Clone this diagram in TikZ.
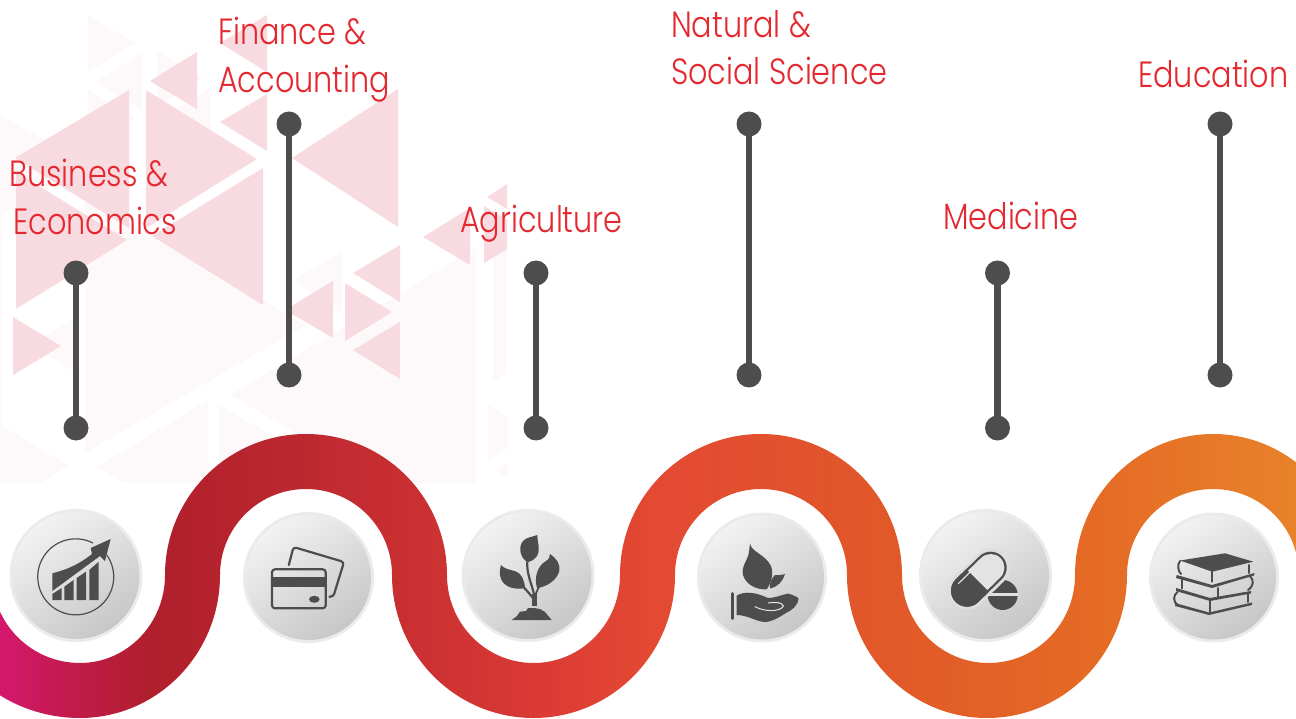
\documentclass[tikz,border=0pt]{standalone}
\usepackage{fontspec}
\setmainfont{Poppins Light}[FakeStretch=0.83]
\usepackage{tikz}
\usetikzlibrary{positioning}
\definecolor{inkred}{HTML}{E4282F}
\definecolor{inkgray}{HTML}{4D4D4D}
\definecolor{paletri}{HTML}{FDF9FA}
\definecolor{pinktri}{HTML}{F8DBE1}
\definecolor{riba}{HTML}{D4186F}
\definecolor{ribb}{HTML}{C41A50}
\definecolor{ribc}{HTML}{B01F2C}
\definecolor{ribd}{HTML}{BD2830}
\definecolor{ribe}{HTML}{CD3232}
\definecolor{ribf}{HTML}{DB3A35}
\definecolor{ribg}{HTML}{E34933}
\definecolor{ribh}{HTML}{E15829}
\definecolor{ribi}{HTML}{E56B25}
\definecolor{ribj}{HTML}{E8822A}
\pgfdeclarehorizontalshading{ribbonfade}{100bp}{color(0bp)=(riba); color(25bp)=(riba);
  color(27.3bp)=(ribb); color(30.8bp)=(ribc); color(36.6bp)=(ribd); color(42bp)=(ribe);
  color(45.8bp)=(ribf); color(50.1bp)=(ribg); color(59bp)=(ribh); color(67.4bp)=(ribi);
  color(75bp)=(ribj); color(100bp)=(ribj)}
\tikzset{
    field/.style={inkred, align=left, anchor=north west, inner sep=0pt, font=\fontsize{36.5}{47.7}\selectfont},
    dot/.style={circle, fill=inkgray, minimum size=25pt, inner sep=0pt},
    bar/.style={draw=inkgray, line width=6.5pt, shorten <=-3pt, shorten >=-3pt},
    ball/.style={circle, fill=black!8, inner sep=0pt},
    ballface/.style={circle, inner sep=0pt, left color=black!5, right color=black!22, shading angle=35},
    glyph/.style={fill=inkgray, draw=none},
    rim/.style={draw=inkgray, line width=2.2pt, fill=none, line join=round, line cap=round},
    page/.style={draw=inkgray, line width=2pt, fill=none, line join=round, line cap=round},
}
\begin{document}
\begin{tikzpicture}[x=1pt, y=1pt, yscale=-1]
    \useasboundingbox (0,0) rectangle (1296,719);
    % backdrop triangles
    \foreach \pts in {
        {(88,15) -- (88,72) -- (135,43)}, {(142,53) -- (142,110) -- (95,82)},
        {(157,51) -- (157,107) -- (203,78)}, {(211,88) -- (211,145) -- (165,116)},
        {(88,90) -- (88,147) -- (135,118)}, {(0,115) -- (90,165) -- (0,215)},
        {(0,172) -- (2,172) -- (2,462) -- (0,462)}, {(78,316) -- (78,374) -- (30,345)},
        {(85,197) -- (85,453) -- (306,325)}, {(342,252) -- (342,315) -- (293,280)},
        {(476,248) -- (230,395) -- (382,483) -- (476,483)},
        {(208,400) -- (97,467) -- (125,483) -- (208,483)},
        {(219,405) -- (295,449) -- (295,483) -- (219,483)},
        {(0,425) -- (68,465) -- (40,483) -- (0,483)},
        {(493,253) -- (507,245) -- (507,373) -- (493,382)},
        {(488,405) -- (508,417) -- (508,448) -- (488,461)},
        {(508,463) -- (496,470) -- (508,478)}}
        \fill[paletri] \pts -- cycle;
    \foreach \pts in {
        {(129,90) -- (129,228) -- (15,158)}, {(16,172) -- (16,309) -- (127,240)},
        {(146,90) -- (146,228) -- (257,159)}, {(263,168) -- (263,305) -- (152,236)},
        {(197,52) -- (197,109) -- (150,81)}, {(267,15) -- (267,72) -- (220,43)},
        {(267,94) -- (267,151) -- (220,122)}, {(398,89) -- (398,227) -- (292,158)},
        {(333,281) -- (333,338) -- (285,310)}, {(345,283) -- (345,341) -- (392,312)},
        {(400,245) -- (400,302) -- (353,273)}, {(400,322) -- (400,379) -- (353,350)},
        {(13,317) -- (13,375) -- (61,346)}, {(470,208) -- (470,265) -- (423,237)},
        {(484,206) -- (484,263) -- (507,249) -- (507,220)},
        {(507,184) -- (507,209) -- (487,197)}}
        \fill[pinktri] \pts -- cycle;
    % ribbon
    \begin{scope}
        \clip (-8,575)
            arc[start angle=180, end angle=90, x radius=88, y radius=88]
            arc[start angle=90, end angle=0, x radius=85, y radius=88]
            arc[start angle=180, end angle=360, x radius=141, y radius=141]
            arc[start angle=180, end angle=0, x radius=86.5, y radius=88]
            arc[start angle=180, end angle=360, x radius=141, y radius=141]
            arc[start angle=180, end angle=0, x radius=86.5, y radius=88]
            arc[start angle=180, end angle=360, x radius=138, y radius=141]
            -- (1299,575)
            arc[start angle=360, end angle=180, x radius=86, y radius=86]
            arc[start angle=0, end angle=180, x radius=140, y radius=143]
            arc[start angle=360, end angle=180, x radius=86, y radius=86]
            arc[start angle=0, end angle=180, x radius=141.5, y radius=143]
            arc[start angle=360, end angle=180, x radius=86, y radius=86]
            arc[start angle=0, end angle=90, x radius=140, y radius=143]
            arc[start angle=90, end angle=180, x radius=148, y radius=143]
            -- cycle;
        \shade[shading=ribbonfade] (0,430) rectangle (1296,719);
    \end{scope}
    % balls
    \foreach \name/\x/\y/\d in {balla/76/575.5/133, ballb/308.5/577.5/131, ballc/528/575.5/133,
        balld/762/577.5/130, balle/985.5/575.5/133, ballf/1214/577.5/130} {
        \node [ball, minimum size=\d pt] (\name) at (\x,\y) {};
        \node [ballface, minimum size=\d pt-6pt] (\name face) at (\x,\y) {};
    }
    % labels
    \node [field] (business) at (9,159) {Business \&\\\hspace*{4pt}Economics};
    \node [field] (finance) at (218,17) {Finance \&\\Accounting};
    \node [field] (agri) at (460,205) {Agriculture};
    \node [field] (natural) at (671,10) {Natural \&\\Social Science};
    \node [field] (medicine) at (943,202) {Medicine};
    \node [field] (education) at (1138,60) {Education};
    % stems
    \node [dot] (bizup) at (76,273) {};
    \node [dot] (bizdown) at (76,428) {};
    \node [dot] (finup) at (289,124) {};
    \node [dot] (findown) at (289,375) {};
    \node [dot] (agriup) at (536,273) {};
    \node [dot] (agridown) at (536,428) {};
    \node [dot] (natup) at (749,124) {};
    \node [dot] (natdown) at (749,375) {};
    \node [dot] (medup) at (997.5,273) {};
    \node [dot] (meddown) at (997.5,428) {};
    \node [dot] (eduup) at (1220,124) {};
    \node [dot] (edudown) at (1220,375) {};
    \draw [bar] (bizup) -- (bizdown);
    \draw [bar] (finup) -- (findown);
    \draw [bar] (agriup) -- (agridown);
    \draw [bar] (natup) -- (natdown);
    \draw [bar] (medup) -- (meddown);
    \draw [bar] (eduup) -- (edudown);
    % chart
    \draw [inkgray, line width=1.2pt] (93,543) arc[start angle=-63, end angle=-395, radius=38];
    \fill [glyph] (52.3,573.3) .. controls (70,569) and (82,562) .. (92,554) -- (90.7,548) -- (110.7,539)
        -- (105,561) -- (100,556) -- (52.3,591) -- cycle;
    \fill [glyph] (52.3,594) -- (61.7,588) -- (61.7,600) -- (52.3,600) -- cycle;
    \fill [glyph] (64.3,586.7) -- (73.7,580) -- (73.7,600) -- (64.3,600) -- cycle;
    \fill [glyph] (76.7,578) -- (86,571.7) -- (86,600) -- (76.7,600) -- cycle;
    \fill [glyph] (89.3,570) -- (98.7,561.7) -- (98.7,600) -- (89.3,600) -- cycle;
    % cards
    \draw [rim, rounded corners=3pt] (272,569.3) rectangle (325.7,608.3);
    \fill [glyph] (272,576.7) rectangle (325.7,586.7);
    \fill [glyph] (314.3,599.3) ellipse [x radius=5.3, y radius=3.5];
    \draw [rim, rounded corners=3pt] (288.8,565) -- (293.5,547) -- (344,562) -- (333.3,596.7) -- (329.5,596.7);
    % plant
    \fill [glyph] (537.3,535) .. controls (537,541) and (541,549) .. (537,556) .. controls (534,560) and (530,562) .. (527.5,562)
        .. controls (520,558) and (518,547) .. (523,541) .. controls (527,537) and (532,537) .. (537.3,535) -- cycle;
    \fill [glyph] (501,565) .. controls (507,572) and (517,568) .. (522,577) .. controls (524,581) and (525,585) .. (525,588)
        .. controls (516,590) and (505,588) .. (501,579) .. controls (499,574) and (500,569) .. (501,565) -- cycle;
    \fill [glyph] (550,554) .. controls (556,558) and (561,564) .. (559,572) .. controls (556,581) and (546,587) .. (537,588)
        .. controls (534,578) and (537,566) .. (546,561) .. controls (549,559) and (550,557) .. (550,554) -- cycle;
    \fill [glyph] (511.7,620) -- (517,616) -- (520,611.7) -- (526,611) -- (528,608) -- (534,608) -- (540,609)
        -- (545,612) -- (551.7,620) -- cycle;
    \draw [inkgray, line width=2.2pt] (527.5,560) .. controls (526,572) and (531,582) .. (534,594);
    \draw [inkgray, line width=2.2pt] (511,577) .. controls (520,582) and (528,592) .. (533,598);
    \draw [inkgray, line width=1.8pt] (549,570) .. controls (543,578) and (538,588) .. (535,596);
    \fill [glyph] (531.5,594) rectangle (536.7,605.5);
    % hand
    \fill [glyph] (750,543.3) .. controls (751,552) and (765,554) .. (771,566) .. controls (774,574) and (771,583) .. (766.7,589.3)
        .. controls (757,590) and (746,585) .. (743,575) .. controls (741,566) and (748,560) .. (749,552) -- cycle;
    \fill [glyph] (785,574) .. controls (783,581) and (778,587) .. (770,588.3) .. controls (769,583) and (772,578) .. (775,575)
        .. controls (778,575.5) and (782,575) .. (785,574) -- cycle;
    \draw [inkgray, line width=3pt, line cap=round] (732.3,593.5) -- (732.3,618.5);
    \fill [glyph] (736.7,595.5) .. controls (745,591) and (755,592) .. (768,598) .. controls (775,598) and (781,595) .. (788.3,593.5)
        .. controls (792,595) and (796,596) .. (798.5,598.3) .. controls (798,606) and (792,610) .. (786,613) .. controls (778,618) and (772,622) .. (764,622)
        .. controls (755,621) and (747,615) .. (736.7,615) -- cycle;
    \draw [black!10, line width=1pt, line cap=round] (755,606.7) .. controls (765,612) and (780,612) .. (783.5,606) .. controls (782,602) and (775,602) .. (768,603);
    % capsule and tablet
    \fill [glyph] (1002.7,595) circle [radius=15];
    \fill [black!12] (987,593.3) rectangle (1018,596.3);
    \draw [black!13, line width=38pt, line cap=round] (967,590.7) -- (990.7,567.7);
    \draw [inkgray, line width=32pt, line cap=round] (967,590.7) -- (990.7,567.7);
    \draw [black!11, line width=27.4pt, line cap=round] (967,590.7) -- (990.7,567.7);
    \begin{scope}
        \clip (957,560) -- (997,600) -- (957,640) -- (917,600) -- cycle;
        \draw [inkgray, line width=32pt, line cap=round] (967,590.7) -- (990.7,567.7);
    \end{scope}
    \draw [black!5, line width=1pt, line cap=round] (958.5,583.5) -- (970.7,571.5);
    % books
    \fill [glyph] (1180,560.5) -- (1225,553.3) -- (1253.3,561.7) -- (1212.3,571.7) -- cycle;
    \fill [glyph] (1176.7,575) -- (1212,585) -- (1254.5,573) -- (1254,575.5) -- (1212,588) -- (1176,578) -- cycle;
    \fill [glyph] (1176,588) -- (1210,598) -- (1251,591) -- (1251,593.5) -- (1210,601) -- (1176,591) -- cycle;
    \fill [glyph] (1175,603) -- (1209,612.5) -- (1252,602.5) -- (1252,605) -- (1209,615) -- (1175,606) -- cycle;
    \draw [page] (1180,561) .. controls (1177,564) and (1178,572) .. (1181,574);
    \draw [page] (1212.3,571.7) -- (1212.3,581.7);
    \draw [page] (1249,565) -- (1249,573);
    \draw [page] (1218,588) -- (1218,597);
    \draw [page] (1181.7,578.3) -- (1181.7,588.3);
    \draw [page] (1250,576) .. controls (1254,580) and (1254,586) .. (1248,590);
    \draw [page] (1177.5,592) .. controls (1173,595) and (1173,602) .. (1177.5,605);
    \draw [page] (1210,600) -- (1210,612);
    \draw [page] (1248,593) -- (1248,602);
\end{tikzpicture}
\end{document}
